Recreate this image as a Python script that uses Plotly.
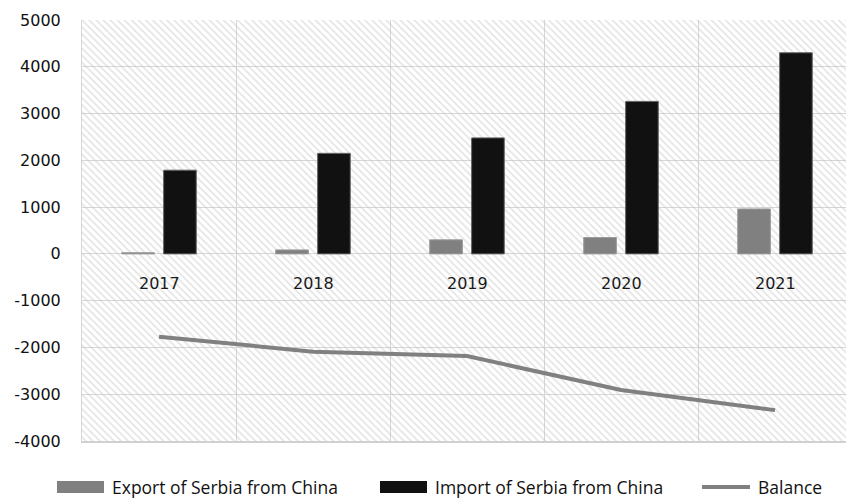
import plotly.graph_objects as go

years = [2017, 2018, 2019, 2020, 2021]
export_vals = [25, 85, 300, 350, 960]
import_vals = [1790, 2150, 2480, 3260, 4300]
balance_vals = [-1770, -2090, -2185, -2910, -3340]
y_ticks = [-4000, -3000, -2000, -1000, 0, 1000, 2000, 3000, 4000, 5000]
y_tick_text = ["-4000", "-3000", "-2000", "-1000", "0", "1000", "2000", "3000", "4000", "5000"]
legend_labels = ["Export of Serbia from China", "Import of Serbia from China", "Balance"]

EXPORT_C = "#808080"
IMPORT_C = "#111111"
BAL_C = "#808080"
GRID_C = "#d6d6d6"
Y_MIN, Y_MAX = -4000, 5000

fig = go.Figure()

# hatched plot-area background
fig.add_trace(go.Bar(
    x=years, y=[Y_MAX - Y_MIN] * len(years), base=[Y_MIN] * len(years),
    width=1.0, offset=-0.5,
    marker=dict(color="rgba(0,0,0,0)", line=dict(width=0),
                pattern=dict(shape="\\", fgcolor="#c6c6c6", bgcolor="rgba(0,0,0,0)",
                             size=5, solidity=0.3)),
    hoverinfo="skip", showlegend=False,
))

fig.add_trace(go.Bar(
    x=years, y=export_vals, name=legend_labels[0],
    width=0.212, offset=-0.242,
    marker=dict(color=EXPORT_C, line=dict(color="#9a9a9a", width=1)),
    showlegend=False,
))
fig.add_trace(go.Bar(
    x=years, y=import_vals, name=legend_labels[1],
    width=0.212, offset=0.03,
    marker=dict(color=IMPORT_C, line=dict(color="#666666", width=1)),
    showlegend=False,
))
fig.add_trace(go.Scatter(
    x=years, y=balance_vals, name=legend_labels[2], mode="lines",
    line=dict(color=BAL_C, width=4), showlegend=False,
))

# category labels under the zero line
for yr in years:
    fig.add_annotation(x=yr, y=0, text=str(yr), showarrow=False,
                       yanchor="middle", yshift=-30,
                       font=dict(family="DejaVu Sans", size=16, color="#1a1a1a"))

# custom legend (bottom)
PW, PH, L, B = 764, 421, 82, 441
def px(xp):
    return (xp - L) / PW
def py(yp):
    return (B - yp) / PH

leg_y = 487
items = [
    ("rect", EXPORT_C, 57, 104, 110),
    ("rect", IMPORT_C, 380, 427, 433),
    ("line", BAL_C, 702, 750, 756),
]
for (kind, col, x0, x1, tx), lab in zip(items, legend_labels):
    if kind == "rect":
        fig.add_shape(type="rect", xref="paper", yref="paper",
                      x0=px(x0), x1=px(x1), y0=py(leg_y - 6), y1=py(leg_y + 6),
                      fillcolor=col, line=dict(width=0))
    else:
        fig.add_shape(type="line", xref="paper", yref="paper",
                      x0=px(x0), x1=px(x1), y0=py(leg_y), y1=py(leg_y),
                      line=dict(color=col, width=4))
    fig.add_annotation(xref="paper", yref="paper", x=px(tx), y=py(leg_y),
                       text=lab, showarrow=False, xanchor="left", yanchor="middle",
                       font=dict(family="Open Sans", size=17.5, color="#111111"))

fig.update_layout(
    width=846, height=498,
    margin=dict(l=82, r=0, t=20, b=57),
    barmode="overlay",
    plot_bgcolor="white", paper_bgcolor="white",
    showlegend=False,
    xaxis=dict(range=[2016.5, 2021.461], tick0=2016.5, dtick=1, showticklabels=False,
               showgrid=True, gridcolor=GRID_C, gridwidth=1, zeroline=False,
               showline=True, linecolor="#d0d0d0", linewidth=2, fixedrange=True),
    yaxis=dict(range=[Y_MIN, Y_MAX], tickvals=y_ticks, ticktext=y_tick_text,
               showgrid=True, gridcolor=GRID_C,
               gridwidth=1, zeroline=False, showline=True, linecolor=GRID_C, linewidth=1,
               ticklabelstandoff=17,
               tickfont=dict(family="DejaVu Sans", size=16, color="#111111")),
)

fig.write_html(
    "out.html",
    config={"displayModeBar": False},
    post_script="document.body.style.margin='0';document.body.style.overflow='hidden';",
)
